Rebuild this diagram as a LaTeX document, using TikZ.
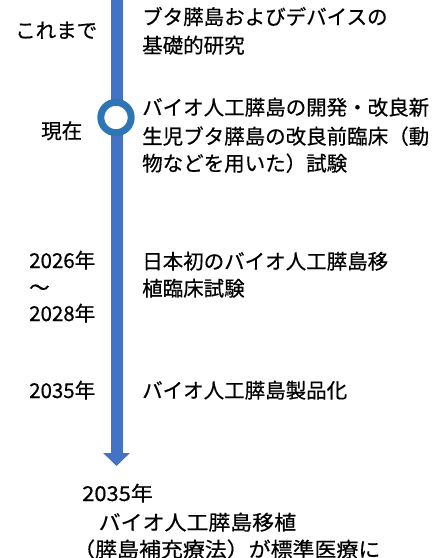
\documentclass[tikz,border=0pt]{standalone}
\usepackage{fontspec}
\setmainfont{Noto Sans CJK JP}[FakeBold=0.5]
\newfontfamily\jpwide{Noto Sans CJK JP}[FakeStretch=1.07,FakeBold=0.5]
\usetikzlibrary{arrows.meta}
\definecolor{lineblue}{HTML}{4472C4}
\definecolor{ringblue}{HTML}{2E75B6}
\begin{document}
\begin{tikzpicture}[x=1pt,y=-1pt,
  txt/.style={anchor=base west,inner sep=0pt,font=\fontsize{20.5}{24}\selectfont},
  wtxt/.style={anchor=base west,inner sep=0pt,font=\jpwide\fontsize{20.5}{24}\selectfont},
  timeline/.style={line width=12pt,draw=lineblue,-{Triangle[width=26pt,length=13pt]}},
  ring/.style={circle,draw=ringblue,line width=7pt,fill=white,minimum size=30.4pt,inner sep=0pt}]
\useasboundingbox (0,0) rectangle (441,558);
\coordinate (top) at (116.5,-4);
\coordinate (tip) at (116.5,466);
\draw[timeline] (top) -- (tip);
\node[ring] (now) at (116,117.5) {};
% labels left
\node[txt] (l1) at (15,38) {これまで};
\node[txt] (l2) at (41,138.5) {現在};
\node[txt] (l3a) at (29,268) {2026年};
\node[txt] (l3b) at (29,295) {～};
\node[txt] (l3c) at (29,321) {2028年};
\node[txt] (l4) at (29,398) {2035年};
% descriptions right
\node[txt] (d1a) at (142,24.5) {ブタ膵島およびデバイスの};
\node[txt] (d1b) at (142,53) {基礎的研究};
\node[txt] (d2a) at (142,115) {バイオ人工膵島の開発・改良新};
\node[txt] (d2b) at (142,144) {生児ブタ膵島の改良前臨床（動};
\node[txt] (d2c) at (142,171) {物などを用いた）試験};
\node[txt] (d3a) at (142,269) {日本初のバイオ人工膵島移};
\node[txt] (d3b) at (142,296) {植臨床試験};
\node[txt] (d4) at (142,398) {バイオ人工膵島製品化};
% goal
\node[wtxt] (g1) at (82,501) {2035年};
\node[wtxt] (g2) at (98.5,530) {バイオ人工膵島移植};
\node[wtxt] (g3) at (73,557) {（膵島補充療法）が標準医療に};
\end{tikzpicture}
\end{document}
